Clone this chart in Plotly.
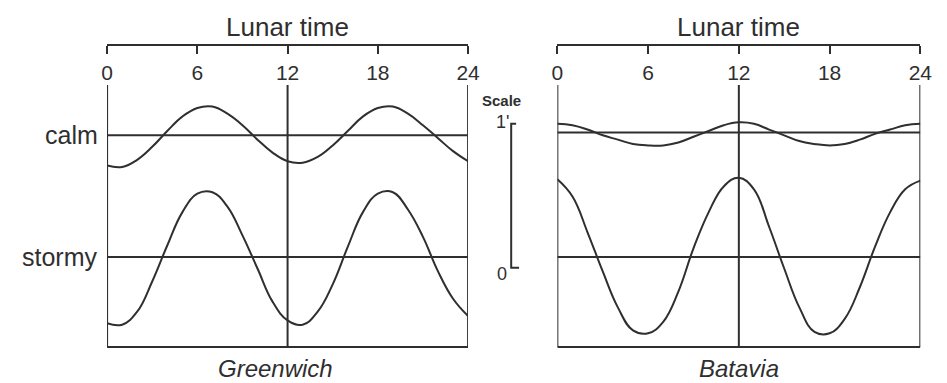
import plotly.graph_objects as go

# Lunar hour of each reading
hours = list(range(25))
tick_hours = [0, 6, 12, 18, 24]

# Lunar daily variation of declination, in minutes of arc, about each zero line
greenwich_calm = [-0.21, -0.22, -0.17, -0.08, 0.03, 0.13, 0.19, 0.20, 0.15, 0.07, -0.03, -0.12,
                  -0.18, -0.19, -0.15, -0.07, 0.03, 0.13, 0.19, 0.20, 0.15, 0.07, -0.02, -0.11, -0.18]
greenwich_stormy = [-0.46, -0.47, -0.38, -0.17, 0.08, 0.31, 0.44, 0.45, 0.35, 0.15, -0.08, -0.31,
                    -0.44, -0.47, -0.38, -0.19, 0.07, 0.31, 0.44, 0.45, 0.33, 0.14, -0.10, -0.29, -0.41]
batavia_calm = [0.06, 0.05, 0.02, -0.02, -0.05, -0.08, -0.09, -0.09, -0.07, -0.03, 0.01, 0.05,
                0.07, 0.06, 0.02, -0.02, -0.06, -0.08, -0.09, -0.08, -0.05, -0.01, 0.02, 0.05, 0.06]
batavia_stormy = [0.54, 0.42, 0.17, -0.10, -0.35, -0.51, -0.53, -0.45, -0.24, 0.06, 0.31, 0.49,
                  0.55, 0.47, 0.21, -0.08, -0.35, -0.52, -0.53, -0.43, -0.21, 0.07, 0.31, 0.47, 0.53]

station_names = ["Greenwich", "Batavia"]
row_labels = ["calm", "stormy"]

# Vertical layout in arcminutes above the lower frame edge
calm_zero = [1.47, 1.49]
stormy_zero = 0.625
frame_top = 1.82
title_level = 2.22
station_level = -0.15
scale_base = 0.55
scale_len = 1.0

W, H = 947, 383
INK = "#2f2f2f"
FONT = "Liberation Sans, Arial, sans-serif"

fig = go.Figure()

panels = [
    ("x", "x3", [0.1088, 0.4974], greenwich_calm, greenwich_stormy),
    ("x2", "x4", [0.5935, 0.9842], batavia_calm, batavia_stormy),
]

for i, (xa, xtop, dom, calm, stormy) in enumerate(panels):
    fig.add_trace(go.Scatter(
        x=hours, y=[calm_zero[i] + v for v in calm], xaxis=xa, yaxis="y",
        mode="lines", line=dict(color=INK, width=2, shape="spline", smoothing=1.2),
        hoverinfo="skip", showlegend=False))
    fig.add_trace(go.Scatter(
        x=hours, y=[stormy_zero + v for v in stormy], xaxis=xa, yaxis="y",
        mode="lines", line=dict(color=INK, width=2, shape="spline", smoothing=1.2),
        hoverinfo="skip", showlegend=False))
    # carrier trace so the top time axis is drawn
    fig.add_trace(go.Scatter(
        x=[tick_hours[0], tick_hours[-1]], y=[None, None], xaxis=xtop, yaxis="y",
        mode="lines", hoverinfo="skip", showlegend=False))

    # frame: bottom edge, sides and the 12-hour divider
    fig.add_shape(type="line", xref=xa, yref="y", x0=tick_hours[0], x1=tick_hours[-1],
                  y0=0, y1=0, line=dict(color=INK, width=2))
    for h in (tick_hours[0], 12, tick_hours[-1]):
        fig.add_shape(type="line", xref=xa, yref="y", x0=h, x1=h,
                      y0=0, y1=frame_top, line=dict(color=INK, width=2))
    # zero lines
    for z in (calm_zero[i], stormy_zero):
        fig.add_shape(type="line", xref=xa, yref="y", x0=tick_hours[0], x1=tick_hours[-1],
                      y0=z, y1=z, line=dict(color=INK, width=2))

    fig.add_annotation(text="Lunar time", xref=xa, yref="y", x=12, y=title_level,
                       showarrow=False, font=dict(family=FONT, size=26, color=INK))
    fig.add_annotation(text="<i>%s</i>" % station_names[i], xref=xa, yref="y",
                       x=11.2 if i == 0 else 12, y=station_level,
                       showarrow=False, font=dict(family=FONT, size=24, color=INK))

# row labels on the left panel
for lab, z in zip(row_labels, [calm_zero[0], stormy_zero]):
    fig.add_annotation(text=lab, xref="paper", yref="y", x=0.101, y=z, xanchor="right",
                       showarrow=False, font=dict(family=FONT, size=25, color=INK))

# scale bracket: one minute of arc
sx_bar, sx_tip, sx_foot = 0.5438, 0.5491, 0.5523
fig.add_shape(type="path", xref="paper", yref="y",
              path="M %f,%f L %f,%f L %f,%f L %f,%f" % (
                  sx_tip, scale_base + scale_len, sx_bar, scale_base + scale_len,
                  sx_bar, scale_base, sx_foot, scale_base),
              line=dict(color=INK, width=2))
fig.add_annotation(text="<b>Scale</b>", xref="paper", yref="y", x=0.5335,
                   y=scale_base + scale_len + 0.16, showarrow=False,
                   font=dict(family=FONT, size=15, color=INK))
fig.add_annotation(text="1'", xref="paper", yref="y", x=0.5345, y=scale_base + scale_len + 0.01,
                   showarrow=False, font=dict(family=FONT, size=18, color=INK))
fig.add_annotation(text="0", xref="paper", yref="y", x=0.5335, y=scale_base - 0.04,
                   showarrow=False, font=dict(family=FONT, size=18, color=INK))

hidden = dict(showline=False, showgrid=False, zeroline=False, showticklabels=False, ticks="")
top_axis = dict(range=[0, 24], anchor="free", position=(H - 45) / H, side="bottom",
                showline=True, linecolor=INK, linewidth=2, ticks="outside", ticklen=8,
                tickwidth=2, tickcolor=INK, tickvals=tick_hours,
                ticktext=[str(t) for t in tick_hours], showgrid=False, zeroline=False,
                tickfont=dict(family=FONT, size=21, color=INK), ticklabelstandoff=1)

fig.update_layout(
    width=W, height=H, margin=dict(l=0, r=0, t=0, b=0),
    paper_bgcolor="white", plot_bgcolor="rgba(0,0,0,0)",
    xaxis=dict(domain=panels[0][2], range=[0, 24], anchor="y", **hidden),
    xaxis2=dict(domain=panels[1][2], range=[0, 24], anchor="y", **hidden),
    xaxis3=dict(domain=panels[0][2], overlaying="x", **top_axis),
    xaxis4=dict(domain=panels[1][2], overlaying="x2", **top_axis),
    yaxis=dict(domain=[0, 1], range=[(347 - H) / 144, 347 / 144], **hidden),
)

fig.write_html("out.html")
